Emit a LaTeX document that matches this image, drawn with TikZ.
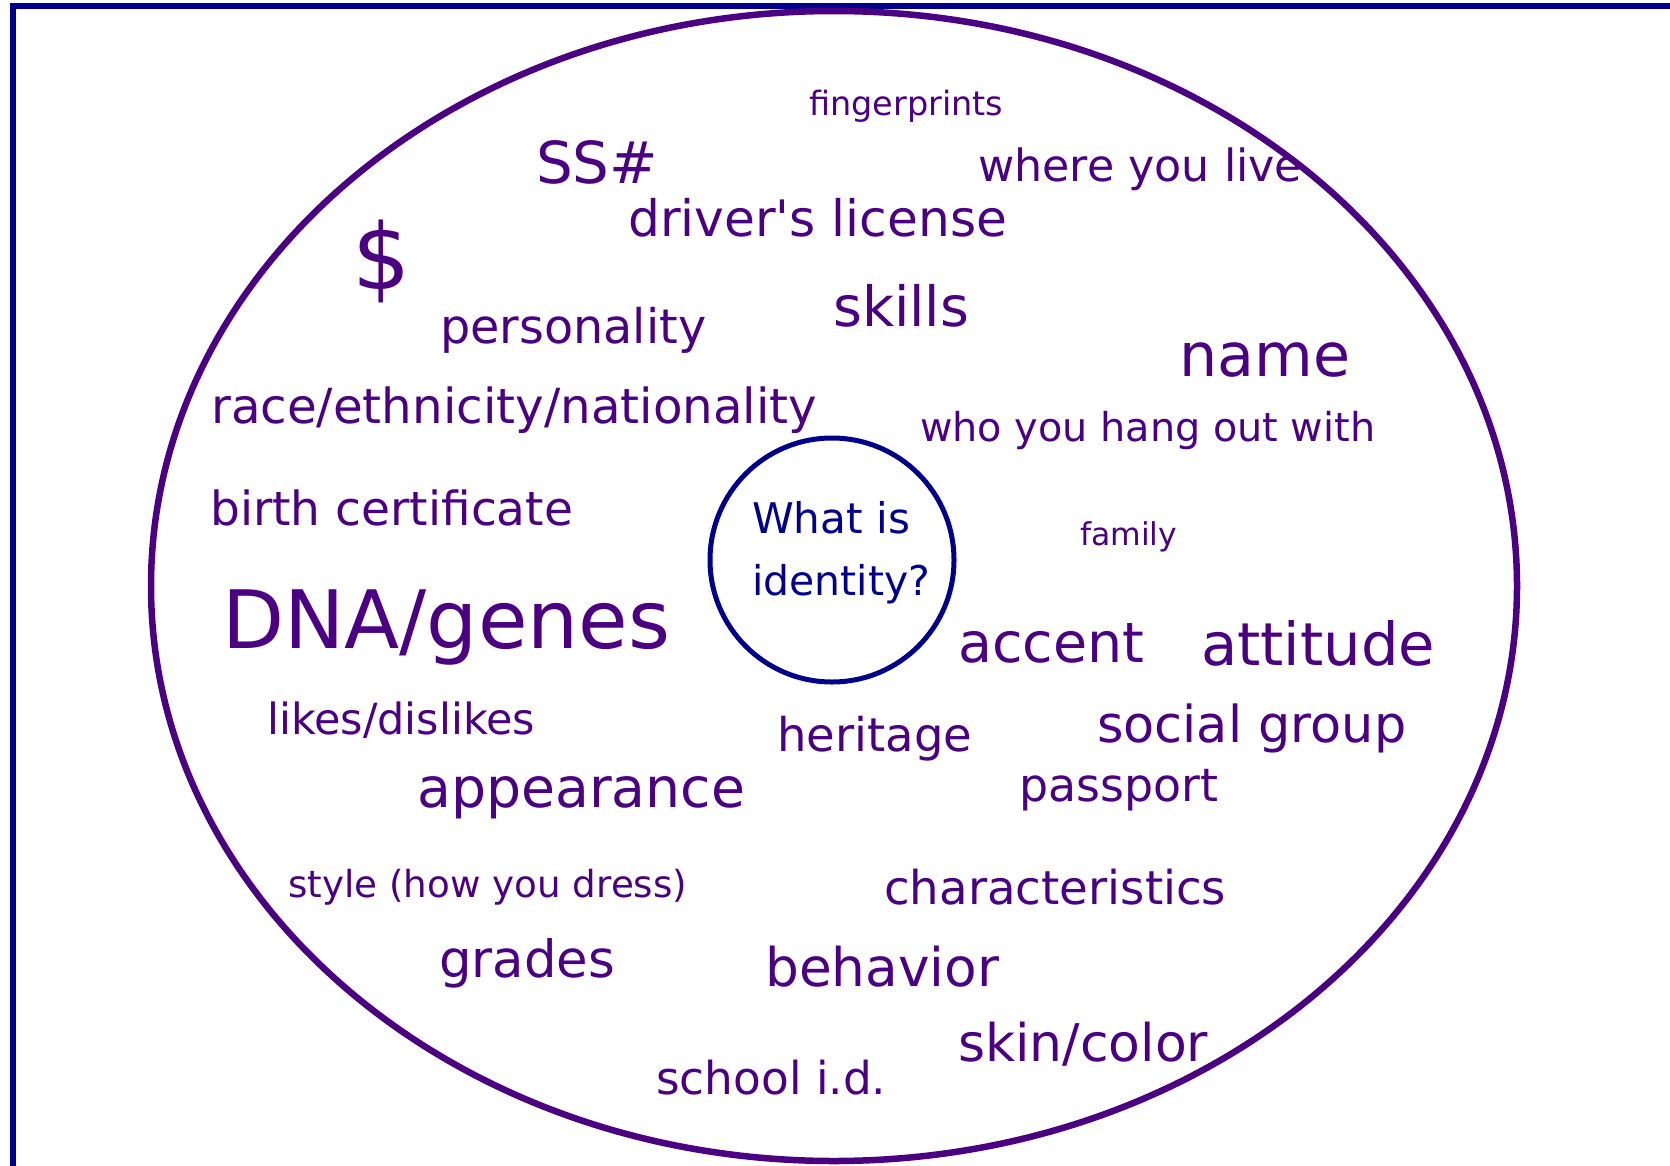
\documentclass[tikz,border=0pt]{standalone}
\usepackage{graphicx}
\usepackage{fontspec}
\setmainfont[Ligatures=TeXOff]{DejaVu Sans}
\definecolor{indig}{HTML}{4B0082}
\definecolor{navyb}{HTML}{00008B}
\newcommand\fitw[2]{\resizebox{#1pt}{!}{#2}}
\tikzset{
  word/.style={inner sep=0pt, anchor=base west, text=indig, font=\fontsize{40}{48}\selectfont},
}
\begin{document}
\begin{tikzpicture}[x=1pt,y=-1pt]
\useasboundingbox (0,0) rectangle (1670,1165);
\fill[white] (0,0) rectangle (1670,1165);
\begin{scope}
\clip (0,0) rectangle (1670,1165);
\draw[navyb, line width=6pt] (13,1180) -- (13,6) -- (1690,6);
\draw[indig, line width=6.5pt] (834,586) ellipse [x radius=683, y radius=575];
\end{scope}
\node[draw=navyb, line width=5pt, circle, minimum size=244pt, inner sep=0pt] (q) at (832,560) {};
\node[inner sep=0pt, anchor=base west, text=navyb, font=\fontsize{40}{48}\selectfont] (q1) at (752,533) {\fitw{158}{What is}};
\node[inner sep=0pt, anchor=base west, text=navyb, font=\fontsize{40}{48}\selectfont] (q2) at (752,595) {\fitw{178}{identity?}};

\node[word] (w1) at (809,115) {\fitw{194}{fingerprints}};
\node[word] (w2) at (536,183) {\fitw{122}{SS\#}};
\node[word] (w3) at (978,181) {\fitw{324}{where you live}};
\node[word] (w4) at (628,236) {\fitw{379}{driver's license}};
\node[inner sep=0pt, text=indig, font=\fontsize{40}{48}\selectfont] (w5) at (382,261) {\resizebox*{!}{83pt}{\$}};
\node[word] (w6) at (440,343) {\fitw{266}{personality}};
\node[word] (w7) at (833,326) {\fitw{136}{skills}};
\node[word] (w8) at (1179,376) {\fitw{171}{name}};
\node[word] (w9) at (211,423) {\fitw{606}{race/ethnicity/nationality}};
\node[word] (w10) at (920,441) {\fitw{455}{who you hang out with}};
\node[word] (w11) at (210,525) {\fitw{363}{birth certificate}};
\node[word] (w12) at (1080,545) {\fitw{97}{family}};
\node[word] (w13) at (222,648) {\fitw{448}{DNA/genes}};
\node[word] (w14) at (958,662) {\fitw{186}{accent}};
\node[word] (w15) at (1201,665) {\fitw{234}{attitude}};
\node[word] (w16) at (267,734) {\fitw{268}{likes/dislikes}};
\node[word] (w17) at (777,751) {\fitw{195}{heritage}};
\node[word] (w18) at (1097,742) {\fitw{309}{social group}};
\node[word] (w19) at (417,807) {\fitw{328}{appearance}};
\node[word] (w20) at (1019,801) {\fitw{199}{passport}};
\node[word] (w21) at (288,897) {\fitw{399}{style (how you dress)}};
\node[word] (w22) at (884,904) {\fitw{342}{characteristics}};
\node[word] (w23) at (439,977) {\fitw{176}{grades}};
\node[word] (w24) at (765,986) {\fitw{234}{behavior}};
\node[word] (w25) at (958,1061) {\fitw{250}{skin/color}};
\node[word] (w26) at (656,1094) {\fitw{230}{school i.d.}};
\end{tikzpicture}
\end{document}
